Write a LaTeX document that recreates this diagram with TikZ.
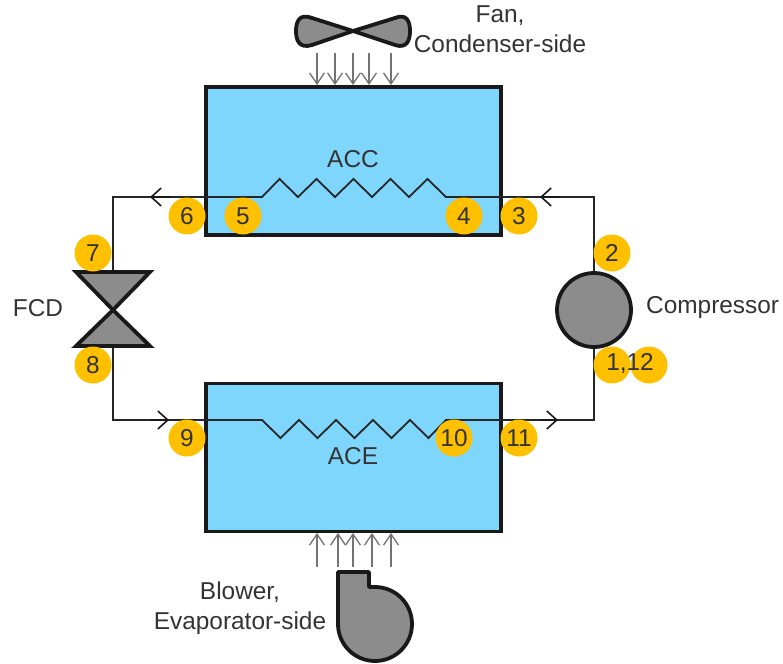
\documentclass[tikz,border=0pt]{standalone}
\usepackage{fontspec}
\setmainfont{Liberation Sans}
\usetikzlibrary{arrows.meta}
\definecolor{coilblue}{HTML}{7FD6FC}
\definecolor{partgray}{HTML}{8C8C8C}
\definecolor{pointgold}{HTML}{FFC000}
\definecolor{labelgray}{HTML}{333333}
\begin{document}
\begin{tikzpicture}[
  x=1pt, y=-1pt,
  font=\fontsize{24.4}{30}\selectfont,
  lbl/.style={text=labelgray, align=center, inner sep=0pt},
  hx/.style={draw=black!90, line width=3.8pt, fill=coilblue, line join=miter, minimum width=295pt, minimum height=148pt, inner sep=0pt},
  part/.style={draw=black!90, line width=3.8pt, fill=partgray, line join=round},
  pipe/.style={draw=black!85, line width=1.8pt, line join=miter},
  air/.style={draw=black!55, line width=1.4pt, -{Straight Barb[length=11pt,width=15pt,line width=1.3pt]}},
  flow/.style={draw=black!90, line width=1.6pt, -{Straight Barb[length=10pt,width=18pt,line width=1.6pt]}},
  pt/.style={circle, fill=pointgold, minimum size=37pt, inner sep=0pt, text=black!80}
]
  \useasboundingbox (0,0) rectangle (783,663);

  \node[hx] (acc) at (353.5,161) {};
  \node[hx] (ace) at (353.5,457.5) {};
  \node[part, circle, minimum size=74pt, inner sep=0pt] (comp) at (594,310) {};
  \coordinate (fcd) at (113,310);

  % refrigerant loop
  \coordinate (corner2) at (594,197);
  \coordinate (corner3) at (113,197);
  \coordinate (corner4) at (113,420);
  \coordinate (corner5) at (594,420);
  \coordinate (acc-in) at (446,197);
  \coordinate (acc-out) at (262,197);
  \coordinate (ace-in) at (262,420);
  \coordinate (ace-out) at (446,420);

  \draw[pipe] (comp.north) -- (corner2) -- (acc-in)
    -- ++(-18.5,-18) -- ++(-18.5,18) -- ++(-18.5,-18) -- ++(-18.5,18) -- ++(-18.5,-18)
    -- ++(-18.5,18) -- ++(-18.5,-18) -- ++(-18.5,18) -- ++(-18.5,-18) -- (acc-out)
    -- (corner3) -- (fcd);
  \draw[pipe] (fcd) -- (corner4) -- (ace-in)
    -- ++(18.5,18) -- ++(18.5,-18) -- ++(18.5,18) -- ++(18.5,-18) -- ++(18.5,18)
    -- ++(18.5,-18) -- ++(18.5,18) -- ++(18.5,-18) -- ++(18.5,18) -- (ace-out)
    -- (corner5) -- (comp.south);
  \draw[flow] (560,197) -- (540,197);
  \draw[flow] (170,197) -- (150,197);
  \draw[flow] (150,420) -- (169,420);
  \draw[flow] (540,420) -- (558,420);

  % valve
  \draw[part, line join=miter] (fcd) -- (76,272) -- (150,272) -- cycle;
  \draw[part, line join=miter] (fcd) -- (76,346) -- (150,346) -- cycle;

  % fan and blower
  \draw[part] (353,31) -- (312,18)
    .. controls (299,13) and (296,22) .. (296,31)
    .. controls (296,40) and (299,49) .. (312,45)
    -- (353,31) -- (395,18)
    .. controls (407,13) and (410,22) .. (410,31)
    .. controls (410,40) and (407,49) .. (395,45)
    -- cycle;
  \foreach \ax in {317,335,353,369,391} {
    \draw[air] (\ax,53) -- (\ax,85);
    }
  \foreach \ax in {317,338,353,372,391} {
    \draw[air] (\ax,567) -- (\ax,533);
    }
  \draw[part] (338,572) -- (369,572) -- (369,587) -- (375,587)
    arc[start angle=-90, end angle=180, radius=37]
    -- cycle;

  % labels
  \node[lbl] (acc-lbl) at (353,159) {ACC};
  \node[lbl] (ace-lbl) at (353,456) {ACE};
  \node[lbl] (fcd-lbl) at (38,308) {FCD};
  \node[lbl, anchor=west] (comp-lbl) at (646,308) {Compressor};
  \node[lbl] (fan-lbl) at (500,29) {Fan,\\Condenser-side};
  \node[lbl] (blow-lbl) at (240,608) {Blower,\\Evaporator-side};

  % state points
  \foreach \nm/\px/\py in {3/519/216, 4/464/216, 5/243/216, 6/187/216, 7/93/253, 8/93/365, 9/187/438, 10/454/438, 11/519/438, 2/612/253} {
    \node[pt] (p\nm) at (\px,\py) {\nm};
  }
  \node[pt] (p12) at (649,365) {};
  \node[pt] (p1) at (612,365) {};
  \node[inner sep=0pt, text=black!80] (p1-lbl) at (630,364) {1,12};
\end{tikzpicture}
\end{document}
